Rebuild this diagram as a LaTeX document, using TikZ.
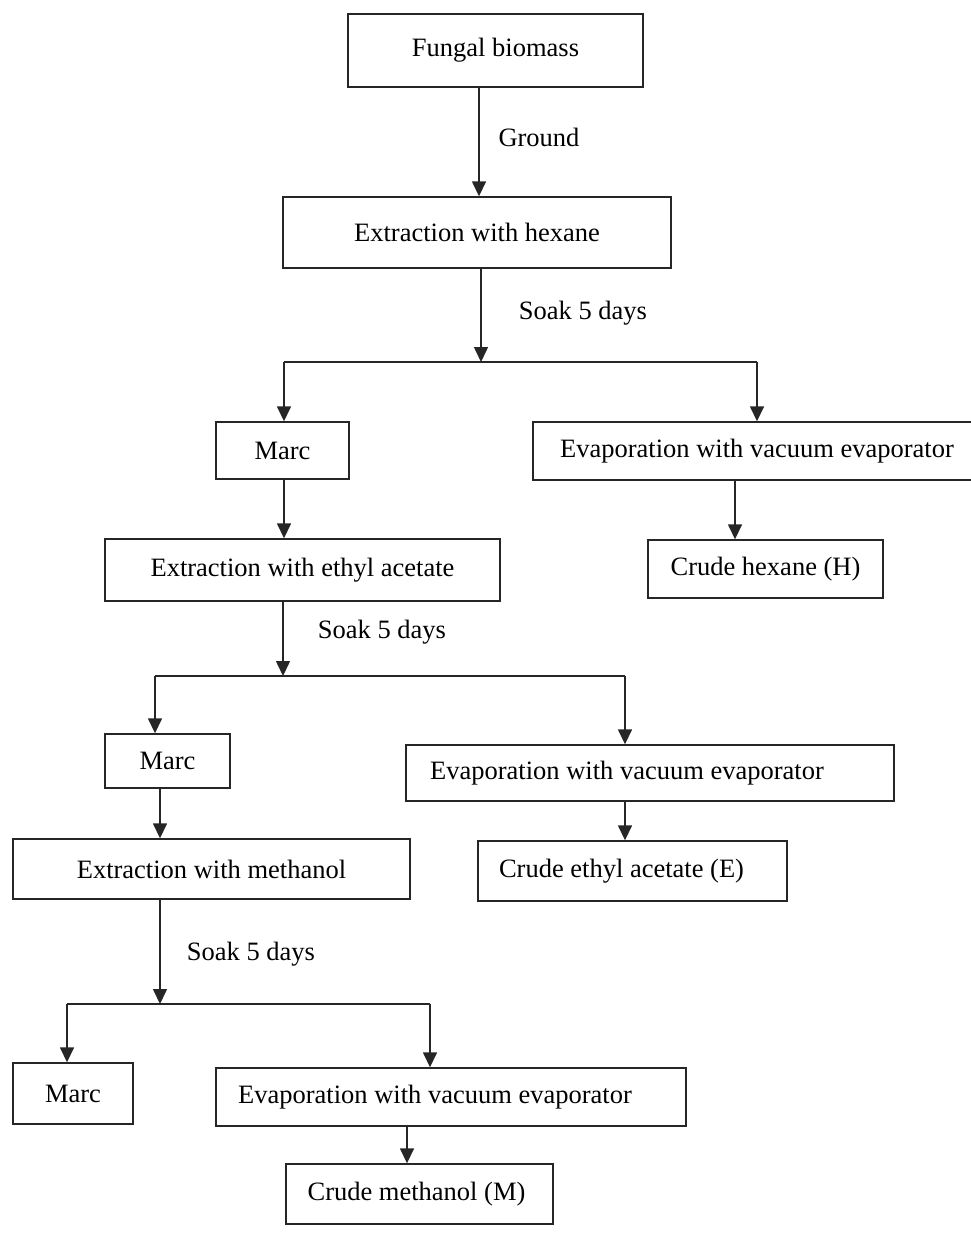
\documentclass[tikz,border=0pt]{standalone}
\usepackage{fontspec}
\setmainfont{Liberation Serif}
\usetikzlibrary{arrows.meta}

\tikzset{
    stepbox/.style={draw=black!85, line width=1.4pt, inner sep=0pt, font=\fontsize{26.5}{30}\selectfont},
    lbl/.style={font=\fontsize{26.5}{30}\selectfont, inner sep=0pt},
    arr/.style={line width=1.5pt, draw=black!85, -{Triangle[length=15pt,width=14pt]}},
    ln/.style={line width=1.5pt, draw=black!85}
}

\begin{document}
\begin{tikzpicture}[x=1pt, y=-1pt]
    \useasboundingbox (0,0) rectangle (971,1240);

    %Boxes
    \node (fb)    at (495.5,50.5) [stepbox, minimum width=295pt, minimum height=73pt] {Fungal biomass};
    \node (hex)   at (477,232.5)  [stepbox, minimum width=388pt, minimum height=71pt] {Extraction with hexane};
    \node (marcA) at (282.5,450.5)[stepbox, minimum width=133pt, minimum height=57pt] {Marc};
    \node (evapA) at (757,451)    [stepbox, minimum width=448pt, minimum height=58pt] {Evaporation with vacuum evaporator};
    \node (crH)   at (765.5,569)  [stepbox, minimum width=235pt, minimum height=58pt] {Crude hexane (H)};
    \node (eth)   at (302.5,570)  [stepbox, minimum width=395pt, minimum height=62pt] {Extraction with ethyl acetate};
    \node (marcB) at (167.5,761)  [stepbox, minimum width=125pt, minimum height=54pt] {Marc};
    \node (evapB) at (650,773)    [stepbox, minimum width=488pt, minimum height=56pt] {\hspace*{-46pt}Evaporation with vacuum evaporator};
    \node (crE)   at (632.5,871)  [stepbox, minimum width=309pt, minimum height=60pt] {\hspace*{-22pt}Crude ethyl acetate (E)};
    \node (meth)  at (211.5,869)  [stepbox, minimum width=397pt, minimum height=60pt] {Extraction with methanol};
    \node (marcC) at (73,1093.5)  [stepbox, minimum width=120pt, minimum height=61pt] {Marc};
    \node (evapC) at (451,1097)   [stepbox, minimum width=470pt, minimum height=58pt] {\hspace*{-32pt}Evaporation with vacuum evaporator};
    \node (crM)   at (419.5,1194) [stepbox, minimum width=267pt, minimum height=60pt] {\hspace*{-6pt}Crude methanol (M)};

    %Labels
    \node (gr) at (539,137) [lbl] {Ground};
    \node (soakA) at (583,313) [lbl] {Soak 5 days};
    \node (soakB) at (382,632) [lbl] {Soak 5 days};
    \node (soakC) at (251,954) [lbl] {Soak 5 days};

    %Split points
    \coordinate (xg) at (479,0);
    \coordinate (sA) at (481,362);
    \coordinate (lA) at (284,362);
    \coordinate (rA) at (757,362);
    \coordinate (sB) at (283,676);
    \coordinate (lB) at (155,676);
    \coordinate (rB) at (625,676);
    \coordinate (sC) at (160,1004);
    \coordinate (lC) at (67,1004);
    \coordinate (rC) at (430,1004);
    \coordinate (xH) at (735,0);
    \coordinate (xE) at (625,0);
    \coordinate (xM) at (407,0);

    %Connectors
    \draw[arr] (fb.south -| xg) -- (hex.north -| xg);
    \draw[arr] (hex.south -| sA) -- (sA);
    \draw[ln] (lA) -- (rA);
    \draw[arr] (lA) -- (marcA.north -| lA);
    \draw[arr] (rA) -- (evapA.north -| rA);
    \draw[arr] (evapA.south -| xH) -- (crH.north -| xH);
    \draw[arr] (marcA.south -| lA) -- (eth.north -| lA);

    \draw[arr] (eth.south -| sB) -- (sB);
    \draw[ln] (lB) -- (rB);
    \draw[arr] (lB) -- (marcB.north -| lB);
    \draw[arr] (rB) -- (evapB.north -| rB);
    \draw[arr] (evapB.south -| xE) -- (crE.north -| xE);
    \draw[arr] (marcB.south -| sC) -- (meth.north -| sC);

    \draw[arr] (meth.south -| sC) -- (sC);
    \draw[ln] (lC) -- (rC);
    \draw[arr] (lC) -- (marcC.north -| lC);
    \draw[arr] (rC) -- (evapC.north -| rC);
    \draw[arr] (evapC.south -| xM) -- (crM.north -| xM);
\end{tikzpicture}
\end{document}
